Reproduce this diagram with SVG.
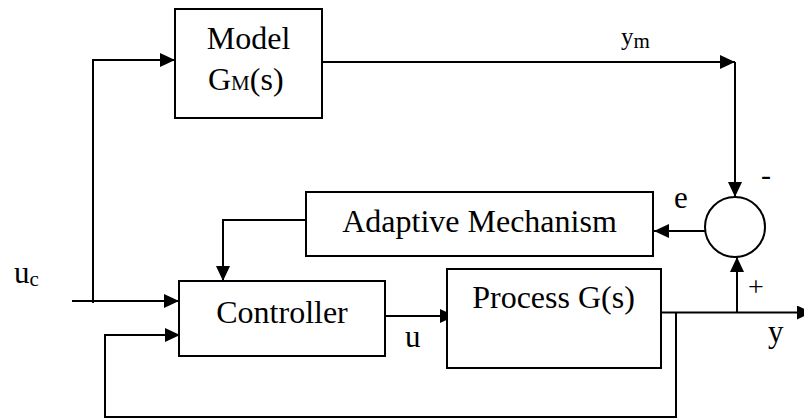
<svg xmlns="http://www.w3.org/2000/svg" width="804" height="419" viewBox="0 0 804 419">
<style>
.box{fill:#fff;stroke:#000;stroke-width:2}
.t{font-family:"Liberation Serif","Times New Roman",serif;font-size:32px;fill:#000}
.l{font-family:"Liberation Serif","Times New Roman",serif;fill:#000}
.c{fill:none;stroke:#000;stroke-width:2}
</style>
<defs>
<marker id="ah" markerWidth="15" markerHeight="14" refX="15" refY="7" orient="auto" markerUnits="userSpaceOnUse">
<path d="M0,0 L15,7 L0,14 Z" fill="#000"/>
</marker>
</defs>
<rect width="804" height="419" fill="#fff"/>
<g id="connectors">
<path class="c" d="M72,301 L179,301" marker-end="url(#ah)"/>
<path class="c" d="M93,303 L93,60 L175,60" marker-end="url(#ah)"/>
<path class="c" d="M322,62 L735,62" marker-end="url(#ah)"/>
<path class="c" d="M735,62 L735,197" marker-end="url(#ah)"/>
<path class="c" d="M706,231 L654,231" marker-end="url(#ah)"/>
<path class="c" d="M306,220 L223,220 L223,281" marker-end="url(#ah)"/>
<path class="c" d="M382,316 L455,316" marker-end="url(#ah)"/>
<path class="c" d="M661,312.5 L812,312.5" marker-end="url(#ah)"/>
<path class="c" d="M737,312.5 L737,257" marker-end="url(#ah)"/>
<path class="c" d="M676,312.5 L676,417 L105,417 L105,335 L180,335" marker-end="url(#ah)"/>
</g>
<g id="model">
<rect class="box" x="175" y="9" width="147" height="109"/>
<text class="t" x="248.5" y="49" text-anchor="middle">Model</text>
<text class="t" x="208" y="90">G<tspan font-size="21">M</tspan>(s)</text>
</g>
<g id="adaptive">
<rect class="box" x="306" y="192" width="347" height="64"/>
<text class="t" x="479.5" y="232" text-anchor="middle">Adaptive Mechanism</text>
</g>
<g id="controller">
<rect class="box" x="179" y="281" width="206" height="75"/>
<text class="t" x="282" y="323" text-anchor="middle">Controller</text>
</g>
<g id="process">
<rect class="box" x="447" y="269" width="214" height="99"/>
<text class="t" x="553.5" y="308" text-anchor="middle">Process G(s)</text>
</g>
<g id="sum">
<circle cx="735" cy="227" r="30" fill="#fff" stroke="#000" stroke-width="2"/>
</g>
<g id="labels">
<text class="l" x="14" y="283" font-size="31">u<tspan font-size="21" dy="3">c</tspan></text>
<text class="l" x="621" y="45" font-size="25">y<tspan font-size="21" dy="3">m</tspan></text>
<text class="l" x="761" y="185" font-size="30">-</text>
<text class="l" x="674" y="208" font-size="31">e</text>
<text class="l" x="748" y="296" font-size="28">+</text>
<text class="l" x="405" y="347" font-size="31">u</text>
<text class="l" x="768" y="342" font-size="31">y</text>
</g>
</svg>
